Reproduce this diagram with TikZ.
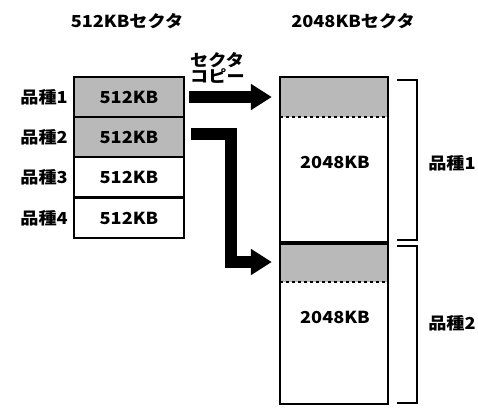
\documentclass[tikz,border=0pt]{standalone}
\usepackage{fontspec}
\setmainfont{Noto Sans CJK JP}[FakeStretch=1.1]
\usetikzlibrary{arrows.meta}
\begin{document}
\begin{tikzpicture}[x=1pt,y=-1pt,
  txt/.style={font=\bfseries\fontsize{16.5}{18}\selectfont, inner sep=0pt},
  ttl/.style={font=\bfseries\fontsize{16.5}{18}\selectfont, inner sep=0pt},
  row/.style={draw, line width=2pt, minimum width=110pt, minimum height=40pt, inner sep=0pt, font=\bfseries\fontsize{16.5}{18}\selectfont},
  shade/.style={fill=gray!55},
  big/.style={draw, line width=2pt, minimum width=108pt, inner sep=0pt},
  fat/.style={line width=11.5pt, -{Triangle[length=21pt,width=25pt]}},
  brk/.style={line width=1.6pt}]
\useasboundingbox (0,0) rectangle (478,408);
% titles
\node[ttl] (t1) at (127,21) {512KBセクタ};
\node[ttl] (t2) at (353,21) {2048KBセクタ};
\node[ttl, align=left, anchor=west] (cp) at (190,68) {セクタ\\[-2pt]コピー};
% left rows
\node[row, shade] (r1) at (129,97) {512KB};
\node[row, shade] (r2) at (129,137) {512KB};
\node[row] (r3) at (129,177) {512KB};
\node[row] (r4) at (129,218) {512KB};
\node[txt, anchor=east] (l1) at (68,97) {品種1};
\node[txt, anchor=east] (l2) at (68,137) {品種2};
\node[txt, anchor=east] (l3) at (68,177) {品種3};
\node[txt, anchor=east] (l4) at (68,218) {品種4};
% right boxes
\node[shade, minimum width=108pt, minimum height=40pt, inner sep=0pt] (s1) at (334,97) {};
\node[shade, minimum width=108pt, minimum height=40pt, inner sep=0pt] (s2) at (334,262) {};
\draw[dashed, line width=1.5pt] (s1.south west) -- (s1.south east);
\draw[dashed, line width=1.5pt] (s2.south west) -- (s2.south east);
\node[big, minimum height=165pt] (b1) at (334,159.5) {};
\node[big, minimum height=162pt] (b2) at (334,323) {};
\draw[line width=3pt] (b1.south west) -- (b1.south east);
\node[txt] (k1) at (335,162) {2048KB};
\node[txt] (k2) at (335,317) {2048KB};
% brackets
\coordinate (a1) at (397,80);
\coordinate (a2) at (417,80);
\coordinate (a3) at (417,240);
\coordinate (a4) at (397,240);
\draw[brk] (a1) -- (a2) -- (a3) -- (a4);
\coordinate (c1) at (397,246);
\coordinate (c2) at (417,246);
\coordinate (c3) at (417,403);
\coordinate (c4) at (397,403);
\draw[brk] (c1) -- (c2) -- (c3) -- (c4);
\node[txt] (p1) at (452,163) {品種1};
\node[txt] (p2) at (452,323) {品種2};
% arrows
\draw[fat] ([xshift=4pt]r1.east) -- ([xshift=-8pt]s1.west);
\coordinate (bend) at (231,134);
\draw[fat, line join=miter] ([xshift=6pt,yshift=3pt]r2.east) -- (bend) |- ([xshift=-8pt]s2.west);
\end{tikzpicture}
\end{document}
